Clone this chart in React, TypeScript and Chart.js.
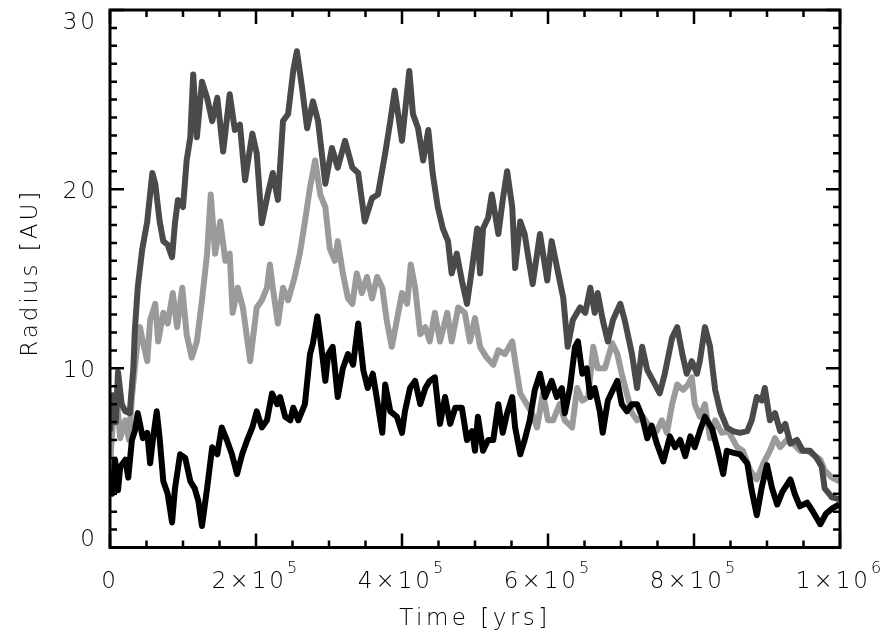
import React, { useEffect, useRef } from "react";
import { Chart, registerables } from "chart.js";

Chart.register(...registerables);

// ---- data (time in kyr, radius in AU) ----
const darkTime = [0,4,8,11,16,21,27,32,34,38,44,51,58,62,68,73,79,85,89,93,100,105,110,114,119,126,133,140,147,155,164,171,178,185,195,201,208,216,223,230,237,244,251,256,263,270,278,285,295,304,312,322,332,340,349,359,367,377,384,390,400,410,415,422,429,436,442,449,456,463,468,475,482,489,496,503,507,511,518,523,532,538,544,551,555,562,568,579,589,599,605,614,621,627,634,644,651,658,664,668,675,682,689,699,705,715,722,729,736,744,753,760,770,777,784,790,797,804,808,815,822,829,836,845,853,863,873,879,886,893,897,904,911,918,925,932,941,949,959,968,975,979,989,999];
const darkRadius = [6.5,8.5,7.0,9.8,8.0,7.6,7.5,10.0,12.1,14.5,16.6,18.2,20.9,20.3,18.2,17.1,16.9,16.2,18.1,19.4,19.0,21.6,22.9,26.4,22.9,26.0,25.1,23.8,25.1,22.1,25.3,23.3,23.6,20.5,23.1,22.0,18.1,19.7,20.9,19.4,23.8,24.2,26.6,27.7,25.7,23.4,24.9,23.8,20.3,22.3,21.2,22.7,21.2,20.9,18.2,19.5,19.7,22.0,23.8,25.5,22.7,26.6,24.2,23.4,21.6,23.3,20.9,19.0,17.8,17.1,15.3,16.4,14.9,13.6,15.6,17.8,15.3,17.8,18.4,19.7,17.5,19.4,21.0,19.0,15.6,18.2,17.5,14.7,17.5,14.9,17.1,15.3,13.9,11.2,12.7,13.4,13.1,14.5,13.1,14.2,12.7,11.5,12.7,13.6,12.7,10.8,8.9,11.2,9.9,9.3,8.6,9.7,11.7,12.3,10.8,9.7,10.4,9.7,10.4,12.3,11.2,8.8,7.6,6.7,6.5,6.4,6.5,7.1,8.4,8.2,8.9,7.1,7.5,6.5,6.9,5.8,6.0,5.4,5.4,5.0,4.5,3.3,2.8,2.7];

const lightTime = [0,4,10,14,21,26,30,37,41,45,51,55,62,66,73,79,86,92,99,105,112,119,126,133,138,144,151,158,164,168,175,182,192,201,208,215,219,223,230,237,244,253,260,267,274,281,288,295,301,308,312,319,326,332,338,345,352,359,366,373,379,386,393,400,407,412,418,425,432,438,445,452,462,468,477,486,493,500,507,516,525,532,541,551,555,562,568,578,585,593,600,607,616,623,633,640,647,655,662,668,678,688,695,701,708,715,722,730,740,749,756,763,770,777,785,792,797,801,808,815,822,829,838,847,859,867,877,886,895,904,911,918,927,936,945,955,963,973,979,989,999];
const lightRadius = [4.5,7.1,8.0,6.1,7.1,6.0,8.4,11.2,12.3,11.5,10.4,12.7,13.6,11.5,13.1,12.5,14.2,12.3,14.5,11.9,10.6,11.5,13.8,16.4,19.7,16.4,18.2,16.0,16.4,13.1,14.5,13.4,10.4,13.4,13.8,14.5,15.8,14.5,12.5,14.5,13.8,15.1,16.4,18.2,20.1,21.6,19.7,19.0,16.7,16.0,17.1,15.3,13.9,13.6,15.3,14.2,15.1,13.9,15.1,14.5,12.7,11.2,12.7,14.2,13.6,15.8,14.5,11.9,12.3,11.5,13.1,11.5,13.1,11.5,13.4,13.1,11.5,12.8,11.2,10.6,10.2,11.0,10.8,11.5,10.4,8.6,8.2,7.5,6.7,8.6,7.1,7.1,8.0,7.1,6.7,8.9,8.2,8.4,11.2,10.0,10.0,11.4,10.8,9.7,8.6,7.5,7.1,7.3,6.7,6.5,7.1,6.4,8.0,9.1,8.8,9.1,9.5,8.0,7.3,8.0,6.1,7.1,6.4,6.5,5.6,5.4,4.3,3.8,4.7,5.4,6.1,5.6,6.0,5.8,5.4,5.4,5.2,4.9,4.3,3.9,3.7];

const blackTime = [0,3,7,11,14,21,25,30,34,38,45,51,55,59,64,68,73,79,85,89,96,103,110,116,121,126,133,140,147,153,160,167,174,181,188,195,201,208,215,222,229,233,240,247,251,258,267,274,278,284,288,295,299,305,312,319,326,333,340,347,353,360,366,373,377,384,393,400,404,411,418,425,432,438,445,452,459,466,473,482,489,496,500,504,511,518,525,532,538,544,551,555,562,568,575,582,589,596,605,612,619,623,630,637,641,647,653,658,664,671,675,682,689,695,701,708,715,722,729,736,742,749,758,767,774,781,788,795,801,808,815,825,832,840,845,853,863,873,879,886,893,900,907,914,921,932,938,945,955,963,973,981,990,999];
const blackRadius = [3.5,3.0,4.9,3.2,4.5,4.9,3.9,6.0,6.5,7.5,6.1,6.4,4.7,6.1,7.6,6.1,3.7,3.0,1.4,3.3,5.2,5.0,3.7,3.3,2.6,1.2,3.3,5.6,5.2,6.7,6.0,5.2,4.1,5.2,6.0,6.7,7.6,6.7,7.1,8.6,8.0,8.4,7.3,7.1,7.8,7.1,8.0,10.8,11.4,12.9,11.7,9.3,10.8,11.2,8.4,10.0,10.8,10.2,12.5,9.9,8.9,9.7,8.2,6.4,9.1,7.6,7.3,6.4,7.6,8.9,9.3,8.0,8.9,9.3,9.5,6.9,8.4,6.9,7.8,7.8,6.0,6.5,5.4,7.3,5.4,6.0,6.0,8.0,6.4,7.5,8.4,6.7,5.2,6.0,7.1,8.8,9.7,8.4,9.3,8.4,8.9,7.5,8.9,11.2,11.5,9.7,10.0,8.4,8.9,7.6,6.4,8.2,8.8,9.3,8.0,7.6,8.0,8.0,7.3,6.1,6.8,5.8,4.8,6.2,5.6,6.0,5.1,6.2,5.6,6.5,7.3,6.6,5.5,4.1,5.4,5.3,5.2,4.7,3.2,1.8,3.4,4.6,3.3,2.4,3.1,3.8,3.0,2.3,2.5,2.0,1.3,1.9,2.2,2.4];

const xMajorTicks = [0, 200000, 400000, 600000, 800000, 1000000];
const xTickMantissa = ["0", "2", "4", "6", "8", "1"];
const xTickExponent = ["", "5", "5", "5", "5", "6"];
const xMinorStep = 50000;
const yMajorTicks = [0, 10, 20, 30];
const yTickLabels = ["0", "10", "20", "30"];
const yMinorStep = 1;

const xTitle = "Time [yrs]";
const yTitle = "Radius [AU]";

const FONT = '"DejaVu Sans", "Liberation Sans", sans-serif';

function toPoints(t: number[], r: number[]) {
  return t.map((v, i) => ({ x: v * 1000, y: r[i] }));
}

const framePlugin = {
  id: "idlFrame",
  afterDraw(chart: any) {
    const { ctx, chartArea } = chart;
    const xs = chart.scales.x;
    const ys = chart.scales.y;
    const { left, right, top, bottom } = chartArea;
    ctx.save();
    ctx.strokeStyle = "#000";
    ctx.lineCap = "butt";
    // ticks
    ctx.lineWidth = 2.5;
    for (let v = xs.min; v <= xs.max + 1; v += xMinorStep) {
      const major = xMajorTicks.some((m) => Math.abs(m - v) < 1);
      const len = major ? 14 : 7;
      const px = xs.getPixelForValue(v);
      ctx.beginPath();
      ctx.moveTo(px, bottom);
      ctx.lineTo(px, bottom - len);
      ctx.moveTo(px, top);
      ctx.lineTo(px, top + len);
      ctx.stroke();
    }
    for (let v = ys.min; v <= ys.max + 0.001; v += yMinorStep) {
      const major = yMajorTicks.some((m) => Math.abs(m - v) < 0.001);
      const len = major ? 14 : 7;
      const py = ys.getPixelForValue(v);
      ctx.beginPath();
      ctx.moveTo(left, py);
      ctx.lineTo(left + len, py);
      ctx.moveTo(right, py);
      ctx.lineTo(right - len, py);
      ctx.stroke();
    }
    // frame
    ctx.lineWidth = 3;
    ctx.strokeRect(left, top, right - left, bottom - top);

    // labels
    ctx.fillStyle = "#000";
    (ctx as any).letterSpacing = "3px";
    const mainSize = 23;
    const supSize = 16;
    ctx.textBaseline = "alphabetic";
    xMajorTicks.forEach((v, i) => {
      const px = xs.getPixelForValue(v);
      const base = xTickMantissa[i] + (xTickExponent[i] ? "×10" : "");
      ctx.font = `300 ${mainSize}px ${FONT}`;
      const wBase = ctx.measureText(base).width;
      ctx.font = `300 ${supSize}px ${FONT}`;
      const wSup = xTickExponent[i] ? ctx.measureText(xTickExponent[i]).width : 0;
      const x0 = px - (wBase + wSup) / 2;
      ctx.textAlign = "left";
      ctx.font = `300 ${mainSize}px ${FONT}`;
      ctx.fillText(base, x0, bottom + 40);
      if (xTickExponent[i]) {
        ctx.font = `300 ${supSize}px ${FONT}`;
        ctx.fillText(xTickExponent[i], x0 + wBase, bottom + 25);
      }
    });
    ctx.font = `300 ${mainSize}px ${FONT}`;
    ctx.textAlign = "right";
    yMajorTicks.forEach((v, i) => {
      let py = ys.getPixelForValue(v);
      if (v === ys.max) py += 10;
      if (v === ys.min) py -= 10;
      ctx.fillText(yTickLabels[i], left - 12, py + 8.5);
    });
    ctx.textAlign = "center";
    ctx.font = `300 ${mainSize}px ${FONT}`;
    (ctx as any).letterSpacing = "3.5px";
    ctx.fillText(xTitle, (left + right) / 2, bottom + 77);
    ctx.save();
    ctx.translate(37, (top + bottom) / 2 - 6);
    ctx.rotate(-Math.PI / 2);
    (ctx as any).letterSpacing = "3px";
    ctx.fillText(yTitle, 0, 0);
    ctx.restore();
    ctx.restore();
  },
};

export default function App() {
  const ref = useRef<HTMLCanvasElement | null>(null);
  useEffect(() => {
    if (!ref.current) return;
    const common = { borderWidth: 6, pointRadius: 0, tension: 0 };
    const chart = new Chart(ref.current, {
      type: "line",
      data: {
        datasets: [
          { label: "black", data: toPoints(blackTime, blackRadius), borderColor: "#000000", ...common },
          { label: "dark", data: toPoints(darkTime, darkRadius), borderColor: "#4a4a4a", ...common },
          { label: "light", data: toPoints(lightTime, lightRadius), borderColor: "#9a9a9a", ...common },
        ],
      },
      options: {
        animation: false,
        responsive: false,
        devicePixelRatio: 1,
        layout: { padding: { left: 110, right: 48, top: 10, bottom: 94.5 } },
        plugins: { legend: { display: false }, tooltip: { enabled: false }, title: { display: false } },
        elements: { line: { borderJoinStyle: "round", borderCapStyle: "butt" } },
        scales: {
          x: { type: "linear", min: 0, max: 1000000, display: false },
          y: { type: "linear", min: 0, max: 30, display: false },
        },
      },
      plugins: [framePlugin],
    });
    return () => chart.destroy();
  }, []);
  return (
    <div style={{ position: "fixed", left: 0, top: 0, width: 888, height: 642, background: "#fff" }}>
      <canvas ref={ref} width={888} height={642} style={{ width: 888, height: 642, display: "block" }} />
    </div>
  );
}
